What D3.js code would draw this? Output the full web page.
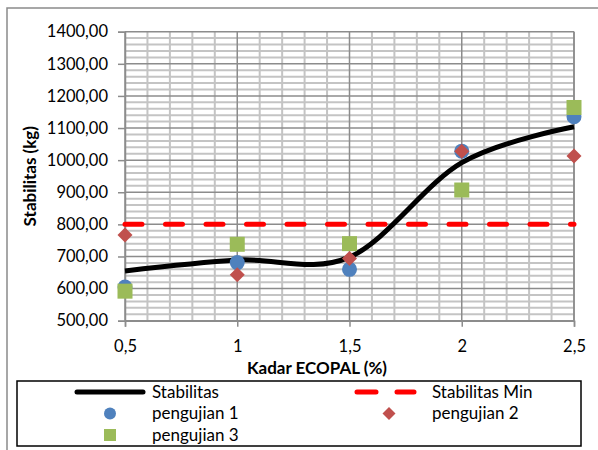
<!DOCTYPE html>
<html>
<head>
<meta charset="utf-8">
<script src="https://cdn.jsdelivr.net/npm/d3@7"></script>
<style>
    body { margin: 0; background: #fff; }
    svg { font-family: Lato, "Open Sans", sans-serif; }
</style>
</head>
<body>
<div id="chart"></div>
<script>
// Data
const kadar = [0.5, 1, 1.5, 2, 2.5];
const stabilitas = [655, 689, 698, 992, 1104];
const stabilitasMin = [800, 800, 800, 800, 800];
const pengujian1 = [605, 681, 660, 1028, 1135];
const pengujian2 = [767, 643, 694, 1028, 1013];
const pengujian3 = [592, 738, 740, 907, 1164];
const xTicks = [0.5, 1, 1.5, 2, 2.5];
const yTicks = [500, 600, 700, 800, 900, 1000, 1100, 1200, 1300, 1400];

const W = 598, H = 450;
const plot = { left: 125, right: 574, top: 31.7, bottom: 320.7 };

const svg = d3.select("#chart")
    .append("svg")
    .attr("width", W)
    .attr("height", H);

svg.append("rect").attr("width", W).attr("height", H).attr("fill", "#fff");

// outer chart frame
svg.append("rect")
    .attr("x", 7).attr("y", 8)
    .attr("width", W).attr("height", H)
    .attr("fill", "none")
    .attr("stroke", "#8a8a8a")
    .attr("stroke-width", 1.5);

const x = d3.scaleLinear().domain([0.5, 2.5]).range([plot.left, plot.right]);
const y = d3.scaleLinear().domain([500, 1400]).range([plot.bottom, plot.top]);

// minor grid
const g = svg.append("g");
const minorX = d3.range(5, 26).map(d => d / 10).filter(d => Math.round(d * 10) % 5 !== 0);
const minorY = d3.range(500, 1401, 20).filter(d => d % 100 !== 0);

g.selectAll(".minor-x").data(minorX).enter().append("line")
    .attr("x1", d => x(d)).attr("x2", d => x(d))
    .attr("y1", plot.top).attr("y2", plot.bottom)
    .attr("stroke", "#c4c4c4").attr("stroke-width", 2);

g.selectAll(".minor-y").data(minorY).enter().append("line")
    .attr("x1", plot.left).attr("x2", plot.right)
    .attr("y1", d => y(d)).attr("y2", d => y(d))
    .attr("stroke", "#c4c4c4").attr("stroke-width", 2);

// major grid
g.selectAll(".major-x").data(xTicks).enter().append("line")
    .attr("x1", d => x(d)).attr("x2", d => x(d))
    .attr("y1", plot.top).attr("y2", plot.bottom)
    .attr("stroke", "#8c8c8c").attr("stroke-width", 1.5);

g.selectAll(".major-y").data(yTicks).enter().append("line")
    .attr("x1", plot.left).attr("x2", plot.right)
    .attr("y1", d => y(d)).attr("y2", d => y(d))
    .attr("stroke", "#8c8c8c").attr("stroke-width", 1.5);

// axes
const fmtY = d => d3.format(".2f")(d).replace(".", ",");
const fmtX = d => String(d).replace(".", ",");

const yAxis = svg.append("g")
    .attr("transform", `translate(${plot.left},0)`)
    .call(d3.axisLeft(y).tickValues(yTicks).tickFormat(fmtY).tickSize(7).tickPadding(10));

const xAxis = svg.append("g")
    .attr("transform", `translate(0,${plot.bottom})`)
    .call(d3.axisBottom(x).tickValues(xTicks).tickFormat(fmtX).tickSize(6).tickPadding(14));

[xAxis, yAxis].forEach(a => {
    a.select(".domain").attr("stroke", "#8c8c8c").attr("stroke-width", 1.5);
    a.selectAll(".tick line").attr("stroke", "#8c8c8c").attr("stroke-width", 1.5);
    a.selectAll("text")
        .attr("fill", "#000")
        .style("font-size", "16.5px")
        .style("font-family", "Lato, 'Open Sans', sans-serif");
});

// right border of plot
svg.append("line")
    .attr("x1", plot.right).attr("x2", plot.right)
    .attr("y1", plot.top).attr("y2", plot.bottom)
    .attr("stroke", "#8c8c8c").attr("stroke-width", 1.5);

// Stabilitas smoothed line
const line = d3.line()
    .x((d, i) => x(kadar[i]))
    .y(d => y(d))
    .curve(d3.curveCardinal.tension(0));

svg.append("path")
    .datum(stabilitas)
    .attr("d", line)
    .attr("fill", "none")
    .attr("stroke", "#000")
    .attr("stroke-width", 5);

// Stabilitas Min dashed line
svg.append("path")
    .datum(stabilitasMin)
    .attr("d", d3.line().x((d, i) => x(kadar[i])).y(d => y(d)))
    .attr("fill", "none")
    .attr("stroke", "#ff0000")
    .attr("stroke-width", 5)
    .attr("stroke-linecap", "round")
    .attr("stroke-dasharray", "17,23.5");

// markers
const circleColor = "#4f81bd", diamondColor = "#c0504d", squareColor = "#9bbb59";

svg.selectAll(".p1").data(pengujian1).enter().append("circle")
    .attr("cx", (d, i) => x(kadar[i]))
    .attr("cy", d => y(d))
    .attr("r", 7.5)
    .attr("fill", circleColor);

svg.selectAll(".p3").data(pengujian3).enter().append("rect")
    .attr("x", (d, i) => x(kadar[i]) - 7.5)
    .attr("y", d => y(d) - 7.5)
    .attr("width", 15).attr("height", 15)
    .attr("fill", squareColor);

const diamond = (cx, cy, r) => `M${cx},${cy - r}L${cx + r},${cy}L${cx},${cy + r}L${cx - r},${cy}Z`;

svg.selectAll(".p2").data(pengujian2).enter().append("path")
    .attr("d", (d, i) => diamond(x(kadar[i]), y(d), 7.5))
    .attr("fill", diamondColor);

// axis titles
svg.append("text")
    .attr("x", 317)
    .attr("y", 374)
    .attr("text-anchor", "middle")
    .style("font-size", "17px")
    .style("font-weight", "bold")
    .text("Kadar ECOPAL (%)");

svg.append("text")
    .attr("transform", `translate(36,${(plot.top + plot.bottom) / 2}) rotate(-90)`)
    .attr("text-anchor", "middle")
    .style("font-size", "17px")
    .style("font-weight", "bold")
    .text("Stabilitas (kg)");

// legend
const legend = svg.append("g");
legend.append("rect")
    .attr("x", 17).attr("y", 381)
    .attr("width", 564).attr("height", 65)
    .attr("fill", "#fff")
    .attr("stroke", "#000")
    .attr("stroke-width", 1.5);

const rows = [392, 413.5, 435];

legend.append("line")
    .attr("x1", 77).attr("x2", 143)
    .attr("y1", rows[0]).attr("y2", rows[0])
    .attr("stroke", "#000").attr("stroke-width", 5).attr("stroke-linecap", "round");

legend.append("line")
    .attr("x1", 357).attr("x2", 414)
    .attr("y1", rows[0]).attr("y2", rows[0])
    .attr("stroke", "#ff0000").attr("stroke-width", 5).attr("stroke-linecap", "round")
    .attr("stroke-dasharray", "19,21");

legend.append("circle").attr("cx", 110).attr("cy", rows[1]).attr("r", 6).attr("fill", circleColor);
legend.append("path").attr("d", diamond(389, rows[1], 6.5)).attr("fill", diamondColor);
legend.append("rect").attr("x", 104).attr("y", rows[2] - 6).attr("width", 12).attr("height", 12).attr("fill", squareColor);

const items = [
    { label: "Stabilitas", x: 152, y: rows[0] },
    { label: "Stabilitas Min", x: 432, y: rows[0] },
    { label: "pengujian 1", x: 152, y: rows[1] },
    { label: "pengujian 2", x: 432, y: rows[1] },
    { label: "pengujian 3", x: 152, y: rows[2] },
];

legend.selectAll(".legend-label").data(items).enter().append("text")
    .attr("x", d => d.x)
    .attr("y", d => d.y)
    .attr("dy", "0.35em")
    .style("font-size", "17px")
    .text(d => d.label);
</script>
</body>
</html>
